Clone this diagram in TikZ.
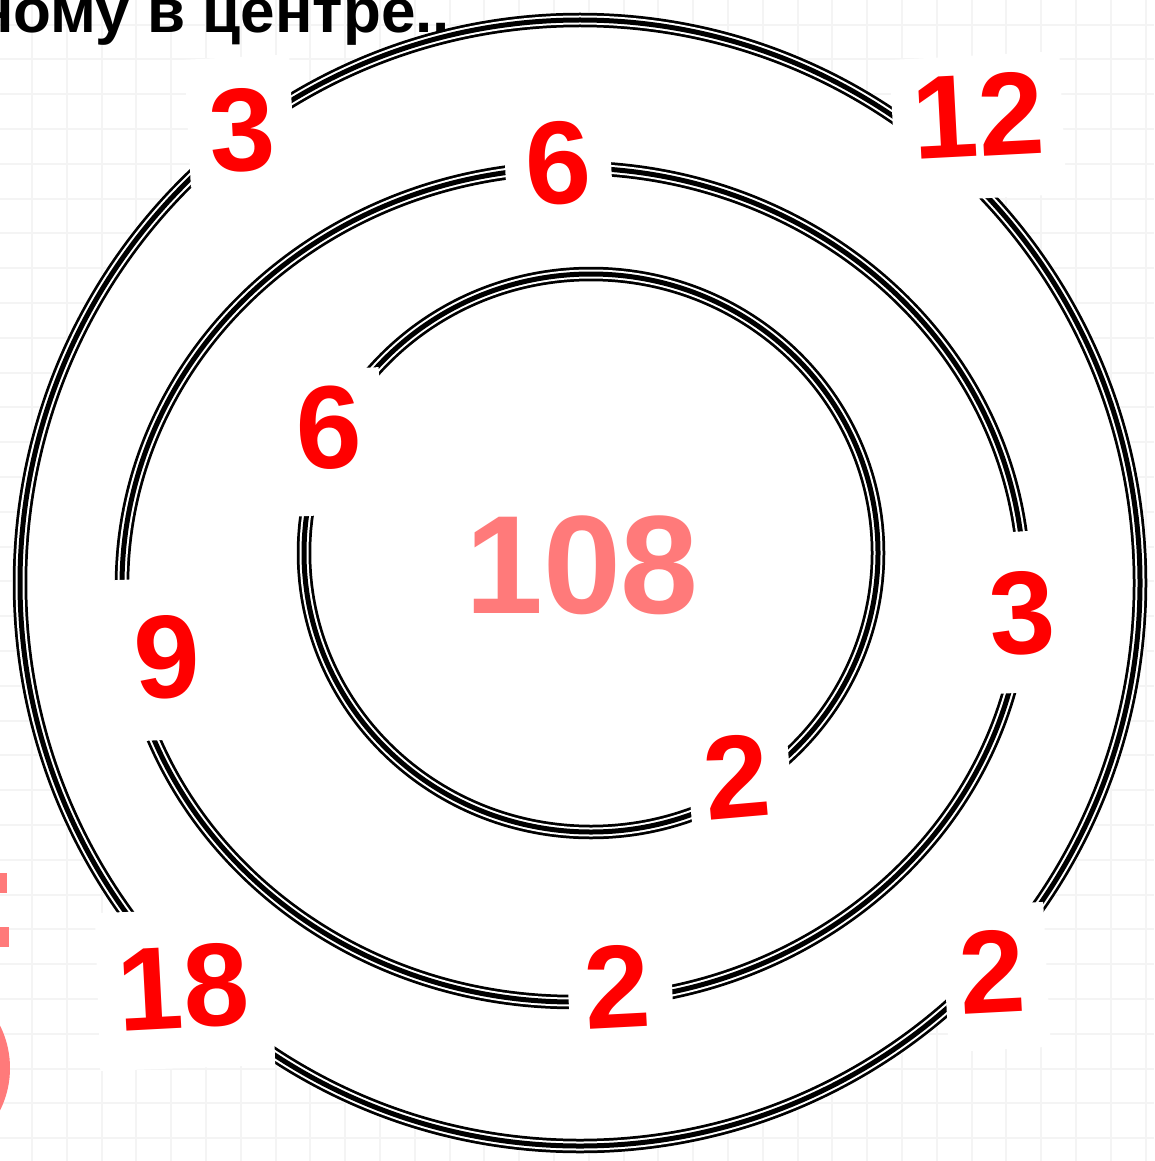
\documentclass[tikz,border=0pt]{standalone}
\usepackage{fontspec}
\setmainfont{Liberation Sans}
\definecolor{numred}{RGB}{255,0,0}
\definecolor{pinkc}{RGB}{255,122,122}
\definecolor{gridc}{RGB}{244,244,244}
\begin{document}
\begin{tikzpicture}[x=1pt,y=-1pt,
  num/.style={text=numred, font=\fontsize{118}{118}\selectfont\bfseries, inner sep=0pt},
  cover/.style={fill=white, draw=none, inner sep=0pt},
  gridline/.style={draw=gridc, line width=2pt}]
\useasboundingbox (0,0) rectangle (1154,1161);
\fill[white] (0,0) rectangle (1154,1161);
% faint grid
\foreach \i in {0,...,32} {
  \draw[gridline] (32+34.8*\i,0) -- (32+34.8*\i,1161);
  \draw[gridline] (0,24.6+34.8*\i) -- (1154,24.6+34.8*\i);
}
% pink fragments at left edge
\fill[pinkc] (0,873) rectangle (7,893);
\fill[pinkc] (0,927) rectangle (9,947);
\fill[pinkc] (-85,1068) circle (95);
% white disc
\coordinate (cO) at (580,583);
\coordinate (cM) at (573,585);
\coordinate (cI) at (591,553);
\fill[white] (cO) ellipse [x radius=568, y radius=571];
% rings (triple lines)
\foreach \c/\rx/\ry in {cO/560/563, cM/451/417, cI/287/279} {
  \draw[black, line width=14.5pt] (\c) ellipse [x radius=\rx, y radius=\ry];
  \draw[white, line width=9pt] (\c) ellipse [x radius=\rx, y radius=\ry];
  \draw[black, line width=5pt] (\c) ellipse [x radius=\rx, y radius=\ry];
}
% white boxes breaking the rings
\node[cover, minimum width=105pt, minimum height=128pt, rotate=3] (b3a) at (240,121) {};
\node[cover, minimum width=170pt, minimum height=143pt, rotate=3] (b12) at (978,127) {};
\node[cover, minimum width=106pt, minimum height=110pt, rotate=3] (b6a) at (558,163) {};
\node[cover, minimum width=95pt, minimum height=145pt, rotate=3] (b6b) at (335,442) {};
\node[cover, minimum width=95pt, minimum height=162pt, rotate=3] (b9) at (160,659) {};
\node[cover, minimum width=75pt, minimum height=161pt, rotate=3] (b3b) at (1022,612) {};
\node[cover, minimum width=102pt, minimum height=110pt, rotate=5] (b2a) at (739,775) {};
\node[cover, minimum width=104pt, minimum height=110pt, rotate=3] (b2b) at (620,987) {};
\node[cover, minimum width=175pt, minimum height=158pt, rotate=2] (b18) at (185,989) {};
\node[cover, minimum width=102pt, minimum height=145pt, rotate=3] (b2c) at (996,977) {};
% numbers
\node[num, rotate=3] (n3a) at (242,130) {3};
\node[num, rotate=3] (n12) at (978,115) {12};
\node[num, rotate=3] (n6a) at (558,163) {6};
\node[num, rotate=2] (n6b) at (329,428) {6};
\node[num, rotate=3] (n9) at (167,657) {9};
\node[num, rotate=3] (n3b) at (1022,613) {3};
\node[num, rotate=5] (n2a) at (737,777) {2};
\node[num, rotate=3] (n2b) at (617,987) {2};
\node[num, rotate=3] (n18) at (183,987) {18};
\node[num, rotate=3] (n2c) at (992,972) {2};
\node[text=pinkc, font=\fontsize{140}{140}\selectfont\bfseries, inner sep=0pt] (n108) at (582,565) {108};
% title fragment
\node[anchor=base west, font=\fontsize{62}{62}\selectfont\bfseries, inner sep=0pt] (title) at (-24,33) {ному в центре..};
\end{tikzpicture}
\end{document}
